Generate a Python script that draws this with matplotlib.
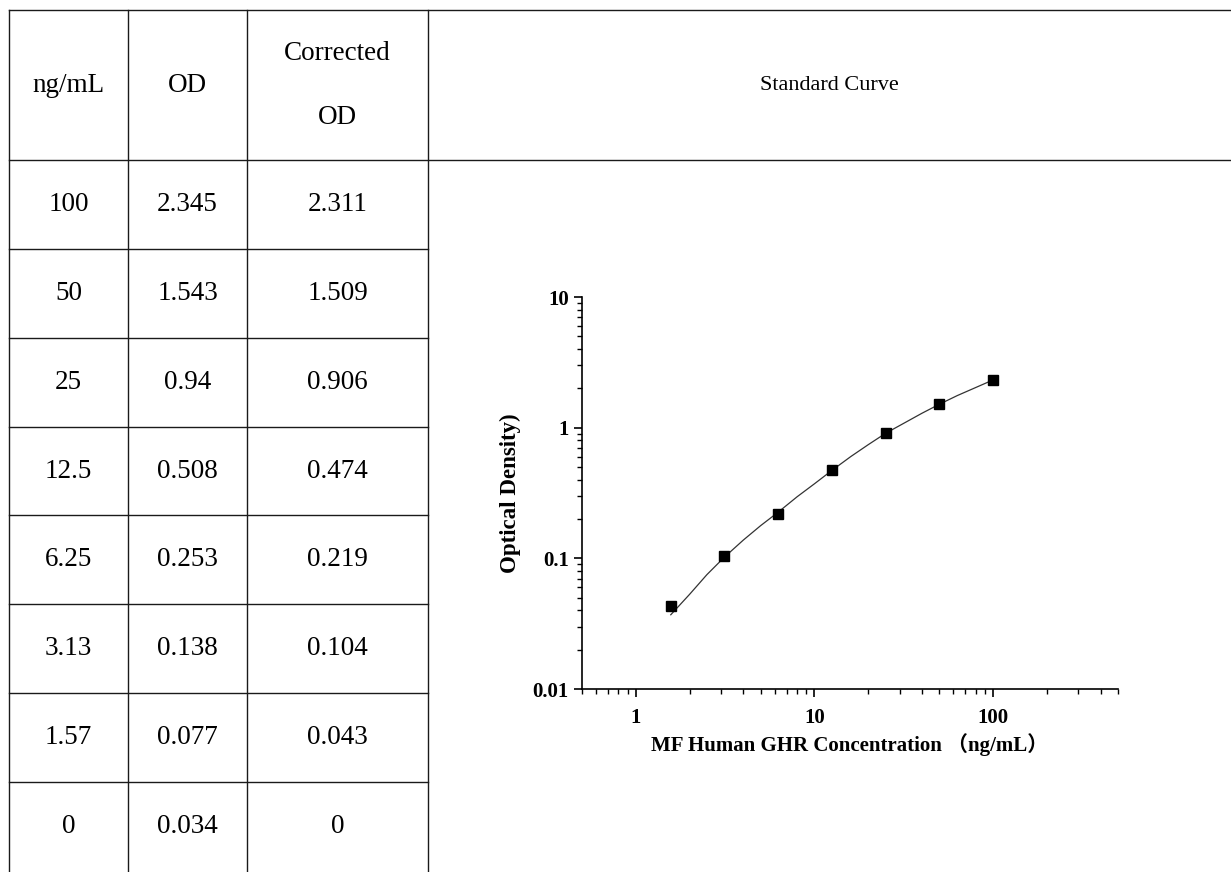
import matplotlib
matplotlib.use("Agg")
import matplotlib.pyplot as plt
from matplotlib.ticker import LogLocator, NullFormatter

plt.rcParams['font.family'] = ['Liberation Serif', 'Noto Sans CJK SC']

# table contents
conc_labels = ['100', '50', '25', '12.5', '6.25', '3.13', '1.57', '0']
od_labels = ['2.345', '1.543', '0.94', '0.508', '0.253', '0.138', '0.077', '0.034']
corr_labels = ['2.311', '1.509', '0.906', '0.474', '0.219', '0.104', '0.043', '0']

# fitted curve
fit_x = [1.57, 2.0, 2.5, 3.13, 4.0, 5.0, 6.25, 8.0, 10, 12.5, 16, 20, 25, 32, 40, 50, 63, 80, 100]
fit_y = [0.037, 0.053, 0.075, 0.102, 0.138, 0.178, 0.225, 0.296, 0.372, 0.470, 0.602, 0.741,
         0.905, 1.09, 1.29, 1.51, 1.76, 2.03, 2.32]

conc = [float(c) for c in conc_labels]
corr = [float(c) for c in corr_labels]
pts_x = [c for c, v in zip(conc, corr) if c > 0]
pts_y = [v for c, v in zip(conc, corr) if c > 0]

W, H = 1231, 872
fig = plt.figure(figsize=(W / 100, H / 100), dpi=100)

# table overlay in pixel coords
tab = fig.add_axes([0, 0, 1, 1])
tab.set_xlim(0, W)
tab.set_ylim(H, 0)
tab.axis('off')

lc = '#1a1a1a'
lw = 1.0
col_x = [9, 128, 247, 428]
top, head = 10, 160
row_h = (782 - 160) / 7
tab.plot([9, W], [top, top], color=lc, lw=lw)
tab.plot([9, W], [head, head], color=lc, lw=lw)
for i in range(1, 8):
    y = head + i * row_h
    tab.plot([9, 428], [y, y], color=lc, lw=lw)
for x in col_x:
    tab.plot([x, x], [top, H], color=lc, lw=lw)

fs = 19.5
cx = [(col_x[i] + col_x[i + 1]) / 2 for i in range(3)]
tab.text(cx[0], 85, 'ng/mL', ha='center', va='center', fontsize=fs)
tab.text(cx[1], 85, 'OD', ha='center', va='center', fontsize=fs)
tab.text(cx[2], 53, 'Corrected', ha='center', va='center', fontsize=fs)
tab.text(cx[2], 118, 'OD', ha='center', va='center', fontsize=fs)
tab.text((428 + W) / 2, 85, 'Standard Curve', ha='center', va='center', fontsize=16)
for i in range(8):
    y = head + (i + 0.5) * row_h
    tab.text(cx[0], y, conc_labels[i], ha='center', va='center', fontsize=fs)
    tab.text(cx[1], y, od_labels[i], ha='center', va='center', fontsize=fs)
    tab.text(cx[2], y, corr_labels[i], ha='center', va='center', fontsize=fs)

# standard curve plot
ax = fig.add_axes([582 / W, 183 / H, (1118 - 582) / W, (689 - 297) / H])
ax.plot(fit_x, fit_y, color='#333333', lw=0.9)
ax.plot(pts_x, pts_y, 's', color='black', ms=7)
ax.set_xscale('log')
ax.set_yscale('log')
ax.set_xlim(0.5, 500)
ax.set_ylim(0.01, 10)
ax.spines['top'].set_visible(False)
ax.spines['right'].set_visible(False)
for s in ['left', 'bottom']:
    ax.spines[s].set_linewidth(1.2)
ax.set_xticks([1, 10, 100])
ax.set_xticklabels(['1', '10', '100'])
ax.set_yticks([0.01, 0.1, 1, 10])
ax.set_yticklabels(['0.01', '0.1', '1', '10'])
ax.xaxis.set_minor_locator(LogLocator(base=10, subs=range(2, 10)))
ax.yaxis.set_minor_locator(LogLocator(base=10, subs=range(2, 10)))
ax.xaxis.set_minor_formatter(NullFormatter())
ax.yaxis.set_minor_formatter(NullFormatter())
ax.tick_params(which='major', direction='out', length=6, width=1.2, labelsize=15)
ax.tick_params(which='minor', direction='out', length=3.5, width=1.0)
ax.tick_params(axis='x', which='major', pad=8)
for lab in ax.get_xticklabels() + ax.get_yticklabels():
    lab.set_fontweight('bold')
ax.set_xlabel('MF Human GHR Concentration （ng/mL）', fontsize=15, fontweight='bold', labelpad=3)
ax.set_ylabel('Optical Density)', fontsize=16.5, fontweight='bold', labelpad=8)

fig.savefig('out.png', dpi=100)
